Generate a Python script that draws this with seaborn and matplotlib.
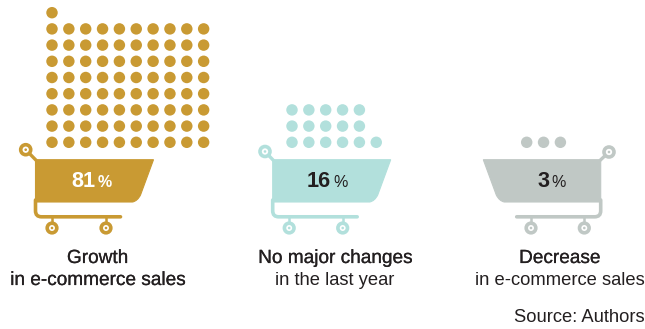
import matplotlib
matplotlib.use("Agg")
import matplotlib.pyplot as plt
from matplotlib.patches import Circle, PathPatch
from matplotlib.path import Path
import matplotlib.patheffects as pe
import pandas as pd
import seaborn as sns

sns.set_theme(style="white")
plt.rcParams["font.family"] = ["Liberation Sans", "DejaVu Sans"]

# Survey shares, one dot per percentage point
categories = ["Growth", "No major changes", "Decrease"]
subtitles = ["in e-commerce sales", "in the last year", "in e-commerce sales"]
shares = [81, 16, 3]
row_lengths = [[10] * 8 + [1], [6, 5, 5], [3]]
colors = ["#C99A33", "#B2E0DC", "#C0C8C5"]
value_colors = ["#FFFFFF", "#231F20", "#231F20"]

# Pixel geometry of the three panels
dot_x0 = [52.0, 292.0, 526.7]
dot_step_x = 16.85
dot_y0 = 142.3
dot_step_y = 16.2
flipped = [False, False, True]
cart_left = [35.5, 272.7, 600.7]
cart_width = [118.0, 118.0, 117.4]
wheel_offsets = [(16.5, 70.5), (16.5, 70.0), (69.7, 16.4)]
rail_length = [85.0, 84.5, 84.0]
ring_xy = [(25.7, 149.7), (265.0, 151.5), (609.0, 152.0)]
label_x = [97.5, 335.0, 559.5]
value_x = [95.3, 331.0, 549.2]
subtitle_sizes = [13.7, 13.2, 13.2]
subtitle_heavy = [True, False, False]


def dot_table():
    rows = []
    for cat, lengths, x0 in zip(categories, row_lengths, dot_x0):
        for r, n in enumerate(lengths):
            for c in range(n):
                rows.append({"category": cat,
                             "x": x0 + c * dot_step_x,
                             "y": dot_y0 - r * dot_step_y})
    return pd.DataFrame(rows)


def draw_cart(ax, left, width, wheels, rail, ring, color, flip):
    s = -1 if flip else 1
    X = lambda d: left + s * d
    top, bottom, rail_y, wheel_y = 159.7, 202.0, 216.8, 228.0

    # Basket: straight on the handle side, slanted with a rounded corner opposite
    verts = [(X(0), top), (X(width), top), (X(width - 13), bottom - 7),
             (X(width - 16), bottom - 1), (X(width - 21), bottom),
             (X(0), bottom), (X(0), top)]
    codes = [Path.MOVETO, Path.LINETO, Path.LINETO, Path.CURVE3, Path.CURVE3,
             Path.LINETO, Path.CLOSEPOLY]
    ax.add_patch(PathPatch(Path(verts, codes), fc=color, ec=color, lw=0.8, zorder=2))

    # Frame under the basket
    frame = [(X(0), bottom - 2), (X(0), rail_y - 6), (X(0), rail_y), (X(6), rail_y),
             (X(rail), rail_y)]
    fcodes = [Path.MOVETO, Path.LINETO, Path.CURVE3, Path.CURVE3, Path.LINETO]
    ax.add_patch(PathPatch(Path(frame, fcodes), fc="none", ec=color, lw=2.6,
                           capstyle="round", zorder=2))

    # Handle ring and its arm
    ax.plot([ring[0], X(1)], [ring[1], top + 1], color=color, lw=2.4, zorder=2,
            solid_capstyle="butt")
    ax.add_patch(Circle(ring, 5.0, fc="white", ec=color, lw=2.6, zorder=3))
    ax.add_patch(Circle(ring, 1.3, fc=color, ec="none", zorder=4))

    # Wheels on short stems
    for off in wheels:
        wx = X(off) if not flip else left - off
        ax.plot([wx, wx], [rail_y, wheel_y - 4], color=color, lw=1.8, zorder=2)
        ax.add_patch(Circle((wx, wheel_y), 4.8, fc="white", ec=color, lw=2.6, zorder=3))
        ax.add_patch(Circle((wx, wheel_y), 1.3, fc=color, ec="none", zorder=4))


fig = plt.figure(figsize=(6.45, 3.29), dpi=100, facecolor="white")
ax = fig.add_axes([0, 0, 1, 1])

sns.scatterplot(data=dot_table(), x="x", y="y", hue="category",
                palette=dict(zip(categories, colors)), s=68, linewidth=0,
                legend=False, ax=ax, zorder=2)

ax.set_xlim(0, 645)
ax.set_ylim(329, 0)
ax.axis("off")

dark = "#231F20"
# A hairline outline gives the regular face a medium weight
medium = [pe.withStroke(linewidth=0.15, foreground=dark)]
for i, cat in enumerate(categories):
    draw_cart(ax, cart_left[i], cart_width[i], wheel_offsets[i], rail_length[i],
              ring_xy[i], colors[i], flipped[i])
    ax.text(value_x[i], 187, f"{shares[i]}", ha="right", va="baseline",
            fontsize=15.6, fontweight="bold", color=value_colors[i], zorder=5)
    ax.text(value_x[i] + 2, 187, "%", ha="left", va="baseline",
            fontsize=11.5, color=value_colors[i], zorder=5,
            fontweight="bold" if i == 0 else "normal")
    ax.text(label_x[i], 263, cat, ha="center", va="baseline", fontsize=13.7,
            color=dark, path_effects=medium)
    sub = ax.text(label_x[i], 285, subtitles[i], ha="center", va="baseline",
                  fontsize=subtitle_sizes[i], color=dark)
    if subtitle_heavy[i]:
        sub.set_path_effects(medium)

ax.text(645, 322, "Source: Authors", ha="right", va="baseline", fontsize=13.2, color=dark)

fig.savefig("out.png", dpi=100, facecolor="white")
